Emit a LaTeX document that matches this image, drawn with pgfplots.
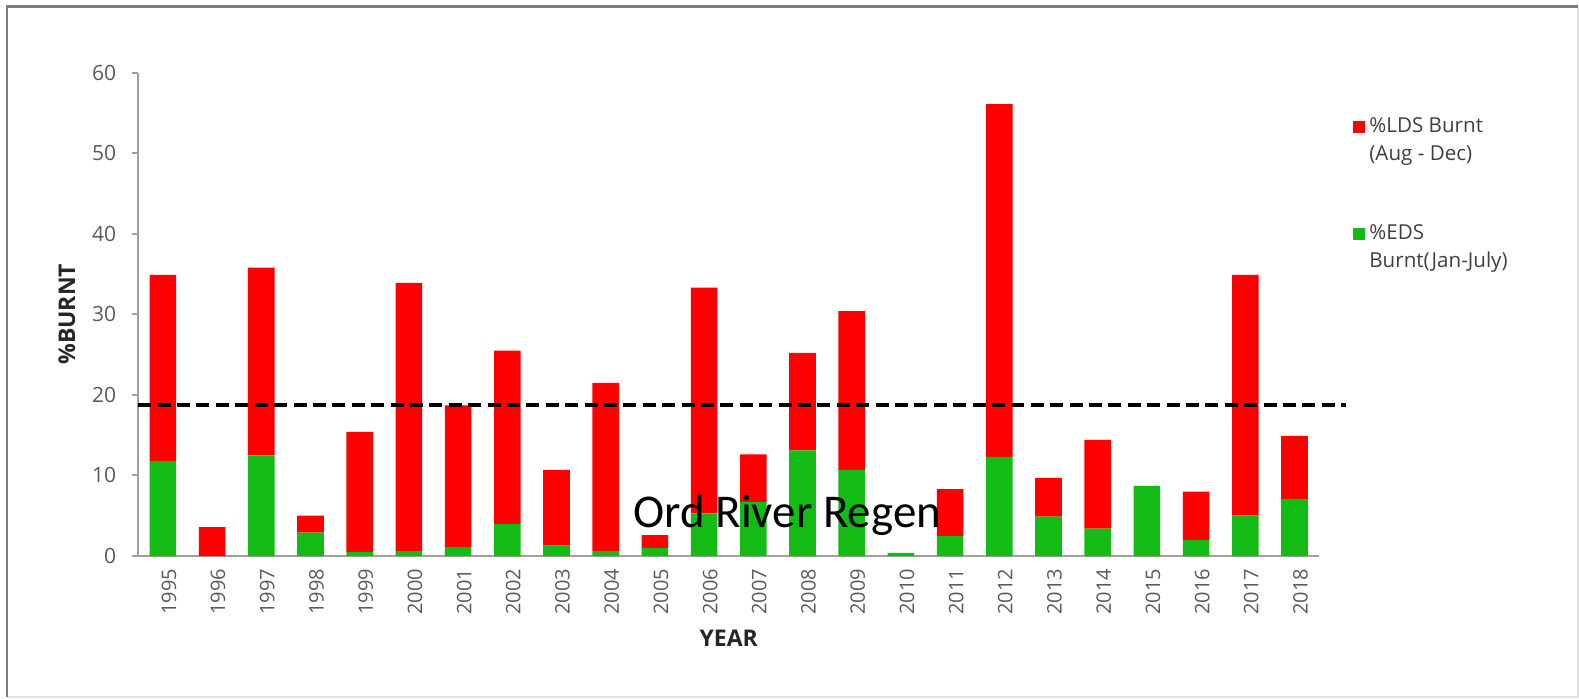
\documentclass[border=0pt]{standalone}
\usepackage{fontspec}
\setmainfont{Open Sans}
\newfontfamily\carlito{Carlito}
\usepackage{pgfplots}
\usepackage{pgfplotstable}
\pgfplotsset{compat=1.18}
\definecolor{ldsred}{RGB}{255,0,0}
\definecolor{edsgreen}{RGB}{20,187,20}
\definecolor{axgray}{RGB}{160,160,160}
\definecolor{ticktext}{RGB}{89,89,89}
\definecolor{labtext}{RGB}{38,38,38}
\definecolor{legtext}{RGB}{64,64,64}
\definecolor{framedark}{RGB}{125,125,125}
\definecolor{framelight}{RGB}{225,225,225}

\pgfplotstableread{
x green red
0 11.8 23.1
1 0.0 3.6
2 12.5 23.3
3 2.9 2.1
4 0.5 14.9
5 0.6 33.3
6 1.1 17.6
7 4.0 21.5
8 1.3 9.4
9 0.6 20.9
10 1.0 1.6
11 5.3 28.0
12 6.7 5.9
13 13.1 12.1
14 10.7 19.7
15 0.4 0.0
16 2.5 5.8
17 12.3 43.8
18 4.9 4.8
19 3.4 11.0
20 8.7 0.0
21 2.0 6.0
22 5.0 29.9
23 7.1 7.8
}\burnt

\begin{document}
\begin{tikzpicture}
\useasboundingbox (-69.15pt,-71pt) rectangle (720.35pt,278pt);
\draw[framelight, line width=1pt] (719.85pt,274.75pt) -- (719.85pt,-70.5pt) -- (-65.65pt,-70.5pt);
\draw[framedark, line width=1.2pt] (-65.65pt,-70.5pt) -- (-65.65pt,274.75pt) -- (719.85pt,274.75pt);
\begin{axis}[
  at={(0pt,0pt)}, anchor=south west,
  scale only axis, width=590.4pt, height=241.7pt,
  xmin=-0.5, xmax=23.5, ymin=0, ymax=60,
  ybar stacked, bar width=13.3pt,
  axis x line*=bottom, axis y line*=left,
  axis line style={-, draw=axgray, line width=1pt},
  xtick={0,...,23},
  xticklabels={1995,1996,1997,1998,1999,2000,2001,2002,2003,2004,2005,2006,2007,2008,2009,2010,2011,2012,2013,2014,2015,2016,2017,2018},
  x tick style={draw=none},
  y tick style={draw=axgray, line width=1pt},
  ytick={0,10,...,60},
  tick align=outside, major tick length=3pt,
  /pgf/number format/assume math mode=true,
  yticklabel style={font=\fontsize{10.5}{12}\selectfont, text=ticktext, xshift=-4.5pt},
  xticklabel style={font=\fontsize{10}{12}\selectfont, text=ticktext, rotate=90, anchor=east, yshift=-3pt},
  ylabel={\%BURNT}, xlabel={YEAR},
  ylabel style={font=\bfseries\fontsize{11.5}{13}\selectfont, text=labtext, at={(axis description cs:-0.0604,0.5)}, anchor=center},
  xlabel style={font=\bfseries\fontsize{11.5}{13}\selectfont, text=labtext, at={(axis description cs:0.5,-0.1696)}, anchor=center},
  legend style={at={(axis description cs:1.0287,0.916)}, anchor=north west, draw=none, fill=none,
    font=\fontsize{10.3}{14}\selectfont, inner sep=0pt, row sep=26.5pt,
    nodes={align=left, text=legtext}},
  legend cell align=left,
  legend image code/.code={\fill[#1] (0pt,3.6pt) rectangle (6pt,9.6pt);},
  reverse legend,
]
\addplot[fill=edsgreen, draw=none] table[x=x,y=green]{\burnt};
\addlegendentry{\%EDS\\Burnt(Jan-July)}
\addplot[fill=ldsred, draw=none] table[x=x,y=red]{\burnt};
\addlegendentry{\%LDS Burnt\\(Aug - Dec)}
\end{axis}
\begin{axis}[
  at={(0pt,0pt)}, anchor=south west,
  scale only axis, width=590.4pt, height=241.7pt,
  xmin=-0.5, xmax=23.5, ymin=0, ymax=60,
  hide axis, clip=false,
]
\addplot[black, line width=1.8pt, dash pattern=on 6.5pt off 3.2pt] coordinates {(-0.5,18.75) (24.04,18.75)};
\node[font=\carlito\fontsize{23.5}{28}\selectfont, anchor=base, text=black] at (axis cs:12.69,3.6) {Ord River Regen};
\end{axis}
\end{tikzpicture}
\end{document}
